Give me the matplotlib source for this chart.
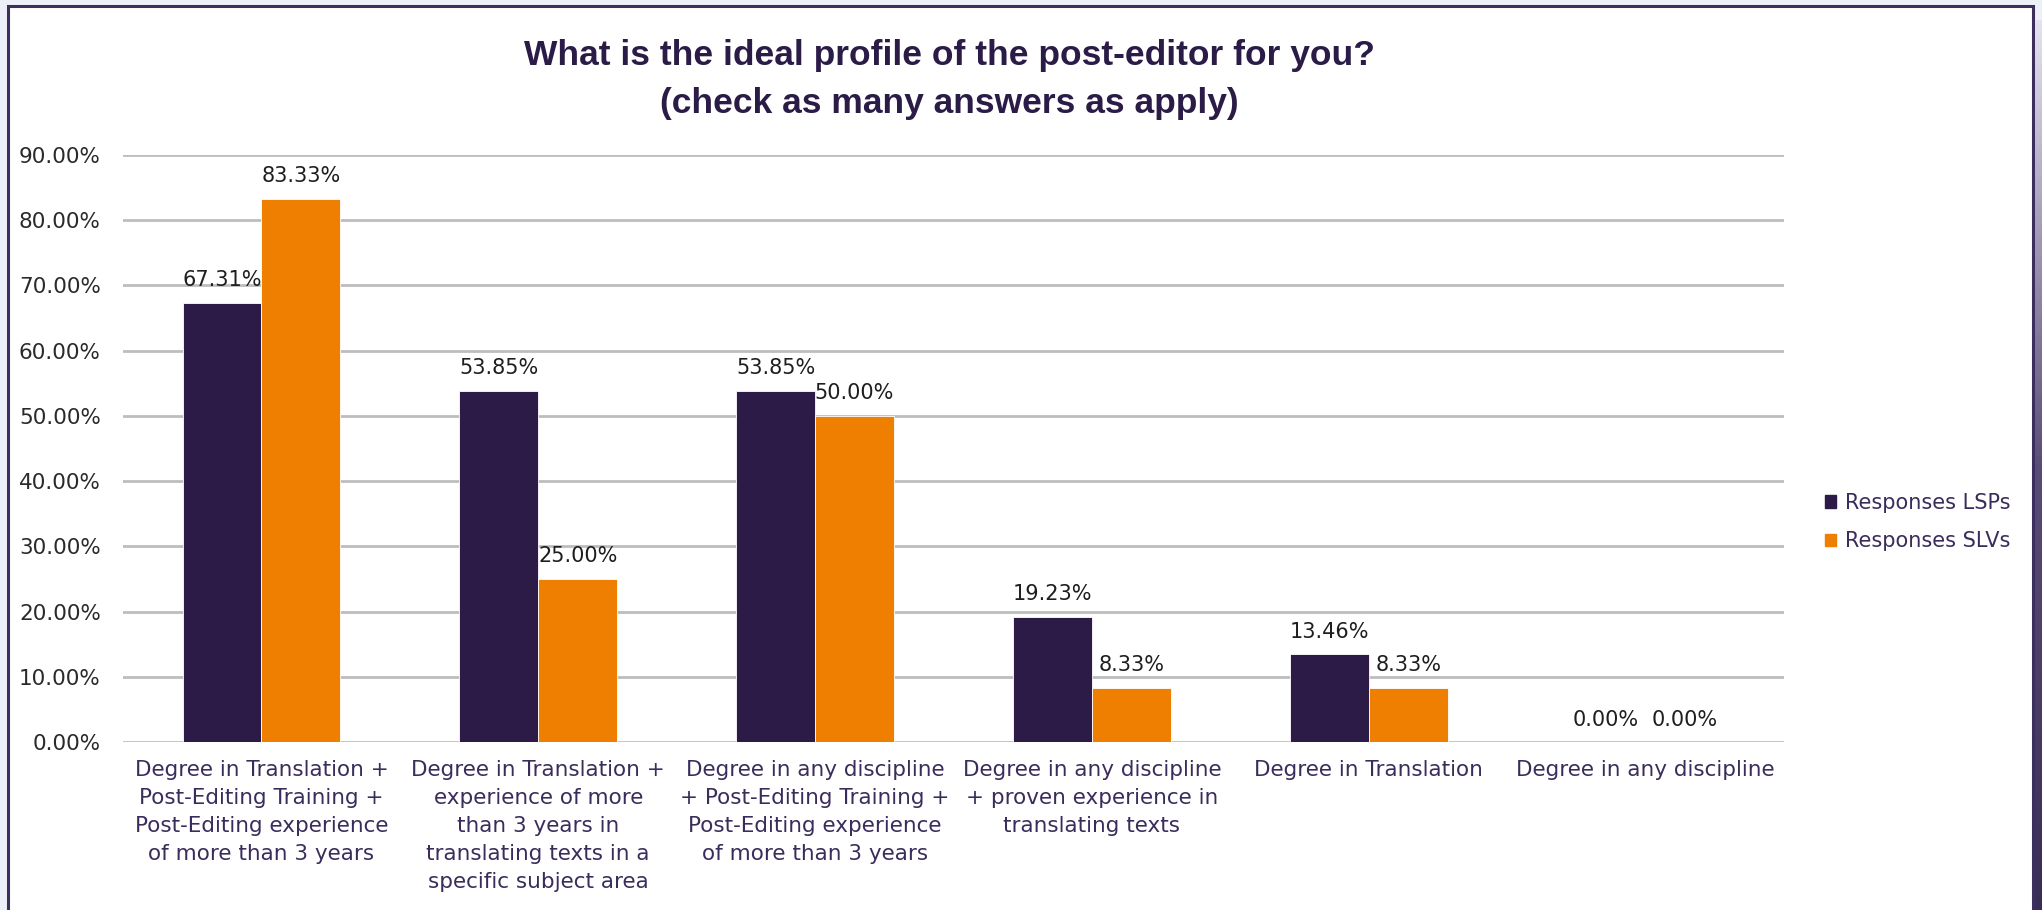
import matplotlib
matplotlib.use('Agg')
import matplotlib.pyplot as plt
import matplotlib.patches as mpatches
import numpy as np

plt.rcParams['font.family'] = 'DejaVu Sans'

categories = [
    'Degree in Translation +\nPost-Editing Training +\nPost-Editing experience\nof more than 3 years',
    'Degree in Translation +\nexperience of more\nthan 3 years in\ntranslating texts in a\nspecific subject area',
    'Degree in any discipline\n+ Post-Editing Training +\nPost-Editing experience\nof more than 3 years',
    'Degree in any discipline\n+ proven experience in\ntranslating texts',
    'Degree in Translation',
    'Degree in any discipline',
]
lsp_values = [67.31, 53.85, 53.85, 19.23, 13.46, 0.00]
slv_values = [83.33, 25.00, 50.00, 8.33, 8.33, 0.00]
series_names = ['Responses LSPs', 'Responses SLVs']
yticks = [0, 10, 20, 30, 40, 50, 60, 70, 80, 90]

DARK = '#2C1B47'
ORANGE = '#EE7F00'
TXT_PURPLE = '#3A2D5C'

W, H = 2042, 910
fig = plt.figure(figsize=(W / 100, H / 100), dpi=100)
fig.patch.set_facecolor('#EEF0F9')

# white slide panel with purple frame
bg = fig.add_axes([0, 0, 1, 1])
bg.set_xlim(0, W); bg.set_ylim(H, 0)
bg.axis('off')
bg.add_patch(mpatches.Rectangle((8, 6), 2025, 920, facecolor='white',
                                edgecolor='#3C2F5E', linewidth=2.2))
# shadow on the right edge
grad = np.linspace(0, 1, 200).reshape(-1, 1)
cmap = matplotlib.colors.LinearSegmentedColormap.from_list('sh', ['#E4E2F0', '#5A4C78', '#3A2D55'])
bg.imshow(grad, extent=(2034.5, 2042, H, 20), cmap=cmap, aspect='auto', zorder=1)

ax = fig.add_axes([123 / W, (H - 742) / H, (1784 - 123) / W, (742 - 155) / H])
x = np.arange(len(categories))
bw = 0.285
b1 = ax.bar(x - bw / 2, lsp_values, bw, color=DARK, label=series_names[0],
            edgecolor='white', linewidth=0.6, zorder=3)
b2 = ax.bar(x + bw / 2, slv_values, bw, color=ORANGE, label=series_names[1],
            edgecolor='white', linewidth=0.6, zorder=3)

for bars, vals in ((b1, lsp_values), (b2, slv_values)):
    for r, v in zip(bars, vals):
        ax.annotate(f'{v:.2f}%', (r.get_x() + r.get_width() / 2, v),
                    xytext=(0, 9), textcoords='offset points',
                    ha='center', va='bottom', fontsize=15, color='#1E1E1E')

ax.set_xlim(-0.5, len(categories) - 0.5)
ax.set_ylim(0, 90)
ax.set_yticks(yticks)
ax.set_yticklabels([f'{t:.2f}%' for t in yticks], fontsize=15.5, color='#2A2A2A')
ax.set_xticks(x)
ax.set_xticklabels(categories, fontsize=15.5, color=TXT_PURPLE, linespacing=1.5)
ax.tick_params(axis='both', length=0)
ax.tick_params(axis='y', pad=16)
ax.tick_params(axis='x', pad=13)
ax.grid(axis='y', color='#BDBDBD', linewidth=2, zorder=0)
for s in ax.spines.values():
    s.set_visible(False)
ax.set_facecolor('none')

fig.legend(handles=[mpatches.Patch(color=DARK), mpatches.Patch(color=ORANGE)],
           labels=series_names, loc='center left',
           bbox_to_anchor=(1806 / W, 1 - 522 / H), frameon=False,
           fontsize=15, labelcolor=TXT_PURPLE, handlelength=0.55, handleheight=0.55,
           handletextpad=0.4, labelspacing=0.9)

fig.text(949 / W, 1 - 55 / H, 'What is the ideal profile of the post-editor for you?',
         ha='center', va='center', fontsize=25.5, fontweight='bold',
         color='#2B1B47', family='Liberation Sans')
fig.text(949 / W, 1 - 103 / H, '(check as many answers as apply)',
         ha='center', va='center', fontsize=25.5, fontweight='bold',
         color='#2B1B47', family='Liberation Sans')

fig.savefig('out.png', dpi=100, facecolor=fig.get_facecolor())
